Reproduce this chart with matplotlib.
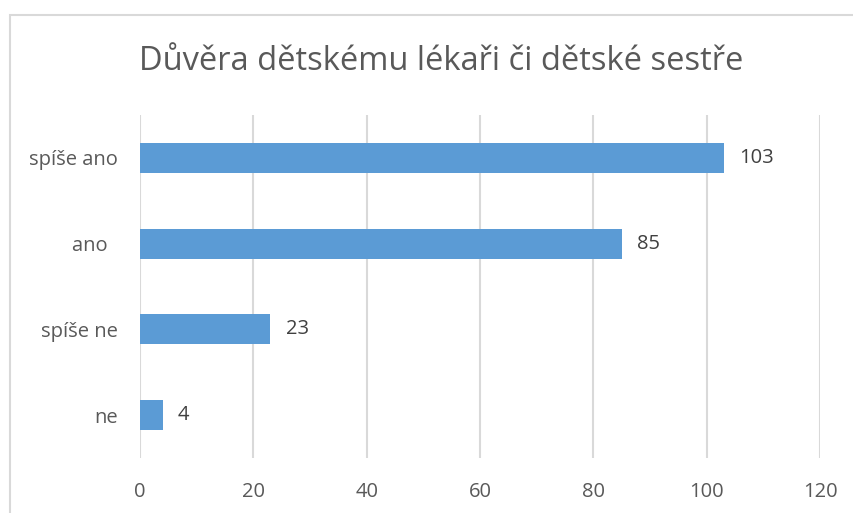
import matplotlib.pyplot as plt
from matplotlib.patches import Rectangle

# DATA
categories = ['ne', 'spíše ne', 'ano  ', 'spíše ano']
values = [4, 23, 85, 103]
title = 'Důvěra dětskému lékaři či dětské sestře'
x_ticks = [0, 20, 40, 60, 80, 100, 120]

BAR_COLOR = '#5B9BD5'
TEXT_COLOR = '#595959'
GRID_COLOR = '#D9D9D9'

plt.rcParams['font.family'] = ['Open Sans', 'DejaVu Sans']

fig = plt.figure(figsize=(8.54, 5.13), dpi=100)
W, H = 854, 513

# chart frame (extends past right/bottom edge of the picture)
fig.patches.append(Rectangle((10 / W, -0.1), 1.2, (H - 15) / H + 0.1,
                             transform=fig.transFigure, fill=False,
                             edgecolor='#D9D9D9', linewidth=1.5))

ax = fig.add_axes([140 / W, (H - 458) / H, 680 / W, 343 / H])
y = range(len(categories))
ax.barh(y, values, height=0.35, color=BAR_COLOR, zorder=3)

for yi, v in zip(y, values):
    ax.annotate(str(v), (v, yi), xytext=(11, 0), textcoords='offset points',
                va='center', ha='left', fontsize=14.5, color='#404040')

ax.set_xlim(0, 120)
ax.set_ylim(-0.5, len(categories) - 0.5)
ax.set_xticks(x_ticks)
ax.set_yticks(list(y))
ax.set_yticklabels(categories)
ax.tick_params(axis='both', length=0, labelsize=14.5, colors=TEXT_COLOR)
ax.tick_params(axis='y', pad=16)
ax.tick_params(axis='x', pad=17)
ax.grid(axis='x', color=GRID_COLOR, linewidth=1.5, zorder=0)
for s in ax.spines.values():
    s.set_visible(False)

fig.text(441 / W, 1 - 62 / H, title, ha='center', va='center',
         fontsize=23.5, color=TEXT_COLOR)

fig.savefig('out.png', dpi=100)
